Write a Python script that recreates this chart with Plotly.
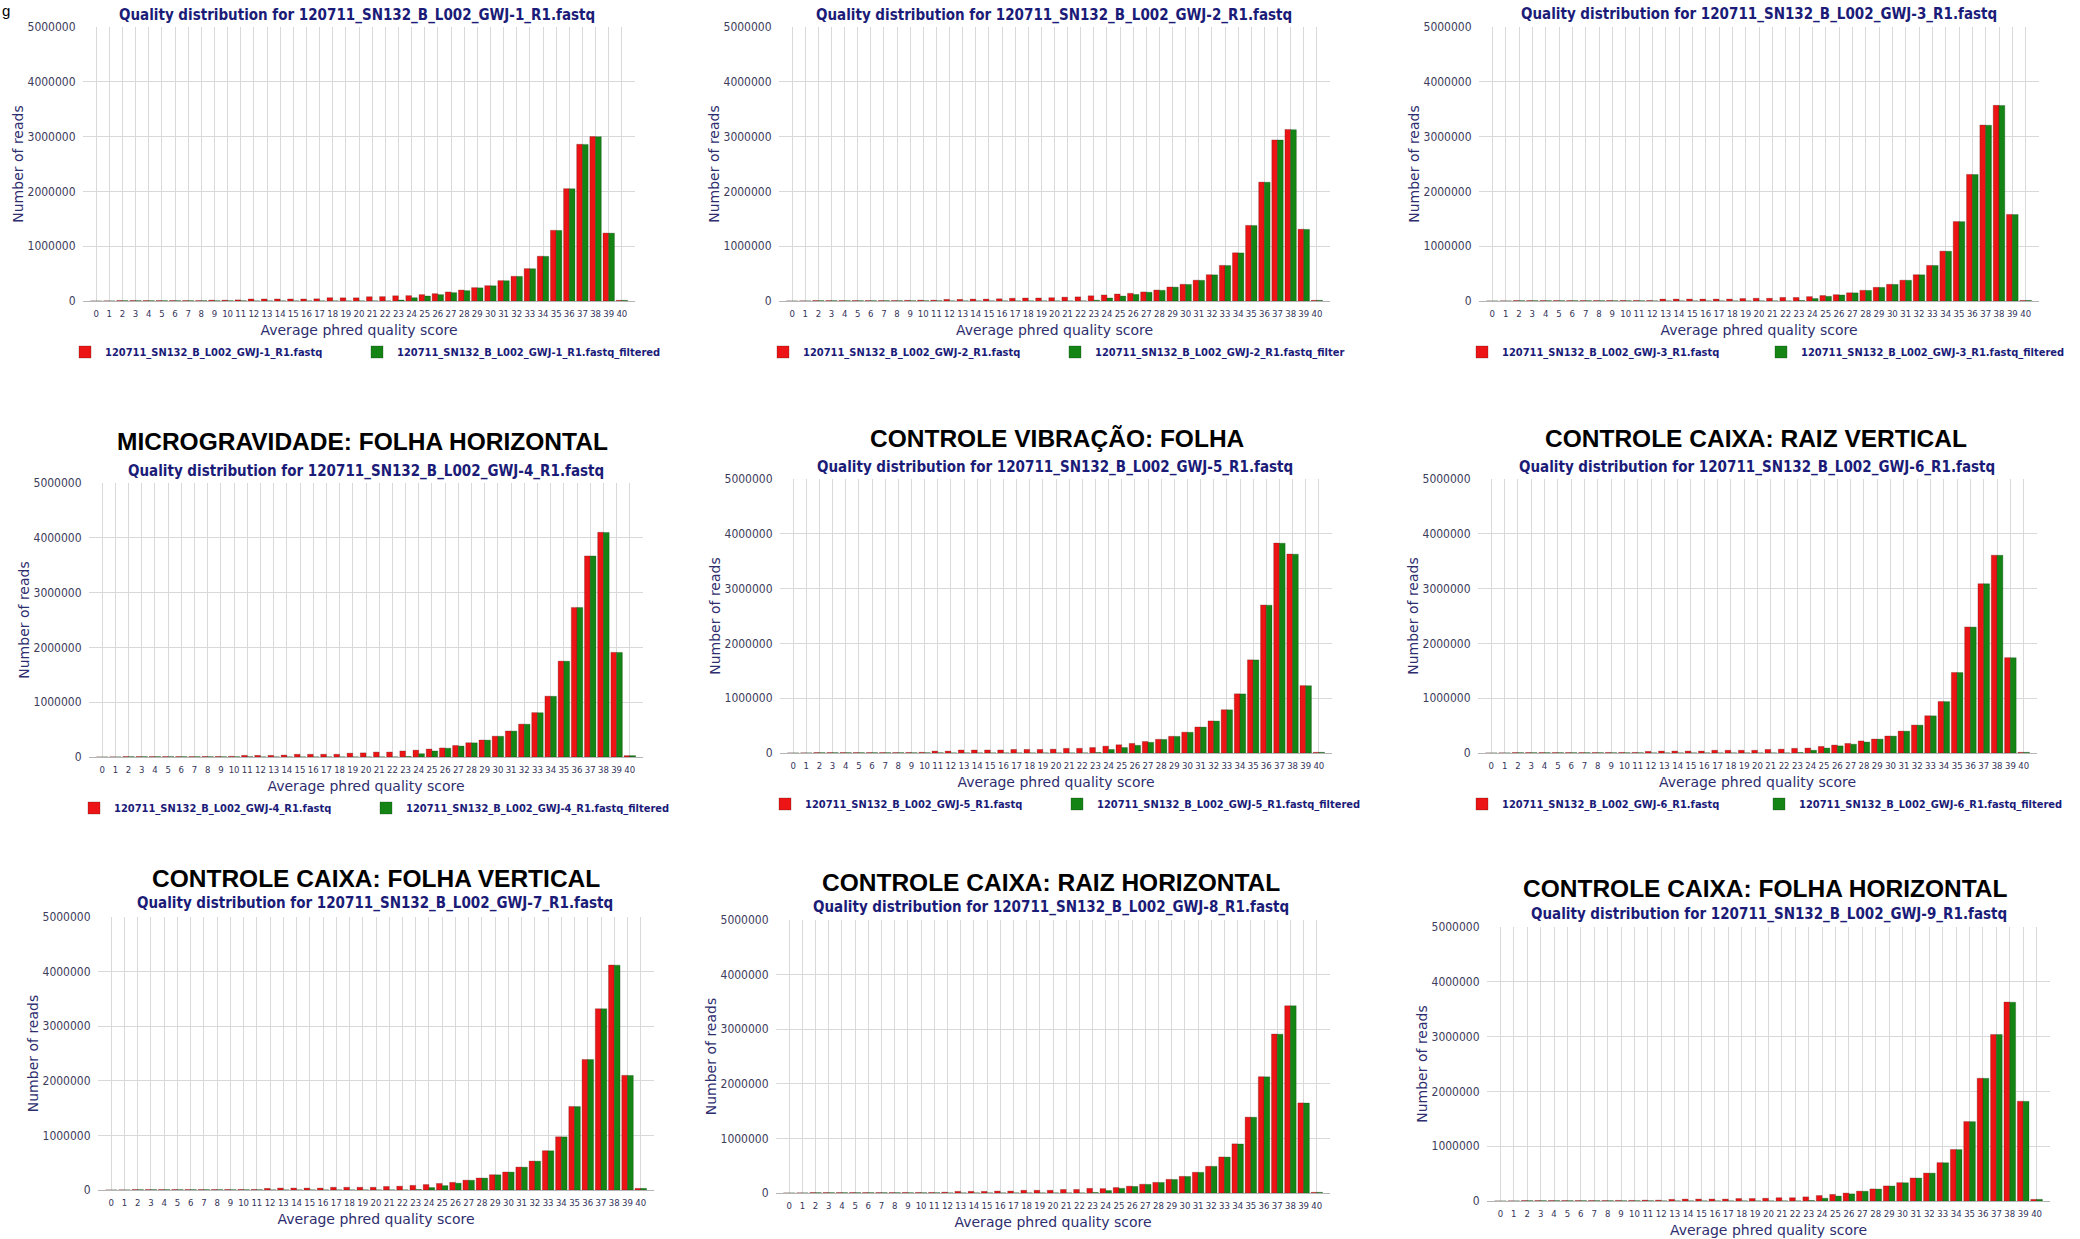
import plotly.graph_objects as go

W, H = 2080, 1239

scores = list(range(41))
score_labels = [str(s) for s in scores]
y_tick_values = [0, 1000000, 2000000, 3000000, 4000000, 5000000]
y_tick_labels = ["0", "1000000", "2000000", "3000000", "4000000", "5000000"]

sample_ids = ["GWJ-1", "GWJ-2", "GWJ-3", "GWJ-4", "GWJ-5", "GWJ-6", "GWJ-7", "GWJ-8", "GWJ-9"]
group_titles = ["", "", "",
                "MICROGRAVIDADE: FOLHA HORIZONTAL",
                "CONTROLE VIBRAÇÃO: FOLHA",
                "CONTROLE CAIXA: RAIZ VERTICAL",
                "CONTROLE CAIXA: FOLHA VERTICAL",
                "CONTROLE CAIXA: RAIZ HORIZONTAL",
                "CONTROLE CAIXA: FOLHA HORIZONTAL"]
raw_names = ["120711_SN132_B_L002_GWJ-1_R1.fastq", "120711_SN132_B_L002_GWJ-2_R1.fastq",
             "120711_SN132_B_L002_GWJ-3_R1.fastq", "120711_SN132_B_L002_GWJ-4_R1.fastq",
             "120711_SN132_B_L002_GWJ-5_R1.fastq", "120711_SN132_B_L002_GWJ-6_R1.fastq",
             "120711_SN132_B_L002_GWJ-7_R1.fastq", "120711_SN132_B_L002_GWJ-8_R1.fastq",
             "120711_SN132_B_L002_GWJ-9_R1.fastq"]
filtered_names = ["120711_SN132_B_L002_GWJ-1_R1.fastq_filtered", "120711_SN132_B_L002_GWJ-2_R1.fastq_filter",
                  "120711_SN132_B_L002_GWJ-3_R1.fastq_filtered", "120711_SN132_B_L002_GWJ-4_R1.fastq_filtered",
                  "120711_SN132_B_L002_GWJ-5_R1.fastq_filtered", "120711_SN132_B_L002_GWJ-6_R1.fastq_filtered",
                  "120711_SN132_B_L002_GWJ-7_R1.fastq_filtered", "120711_SN132_B_L002_GWJ-8_R1.fastq_filtered",
                  "120711_SN132_B_L002_GWJ-9_R1.fastq_filtered"]

raw_gwj1 = [0, 2000, 8000, 8000, 8000, 8000, 8000, 8000, 8000, 15000, 15000, 20000, 37000, 37000, 37000, 37000,
            37000, 40000, 60000, 58000, 58000, 78000, 80000, 95000, 98000, 116000, 134000, 165000, 200000, 244000,
            280000, 372000, 451000, 591000, 817000, 1290000, 2050000, 2860000, 3000000, 1240000, 12000]
filt_gwj1 = [0, 1000, 6000, 6000, 6000, 6000, 6000, 6000, 6000, 5000, 5000, 5000, 2000, 2000, 2000, 2000, 2000,
             2000, 2000, 2000, 2000, 2000, 2000, 18000, 60000, 91000, 116000, 152000, 189000, 240000, 278000,
             370000, 449000, 589000, 815000, 1288000, 2048000, 2858000, 2998000, 1238000, 12000]

raw_gwj2 = [0, 2000, 8000, 8000, 8000, 8000, 8000, 8000, 8000, 12000, 15000, 15000, 30000, 30000, 35000, 35000,
            40000, 50000, 55000, 55000, 60000, 70000, 75000, 95000, 110000, 128000, 140000, 165000, 200000, 256000,
            305000, 380000, 480000, 650000, 880000, 1380000, 2170000, 2940000, 3130000, 1310000, 12000]
filt_gwj2 = [0, 1000, 6000, 6000, 6000, 6000, 6000, 6000, 6000, 5000, 5000, 5000, 2000, 2000, 2000, 2000, 2000,
             2000, 2000, 2000, 2000, 2000, 2000, 15000, 55000, 90000, 120000, 160000, 195000, 253000, 302000,
             377000, 477000, 647000, 877000, 1377000, 2167000, 2937000, 3127000, 1307000, 12000]

raw_gwj3 = [0, 2000, 8000, 8000, 8000, 8000, 8000, 8000, 8000, 10000, 10000, 10000, 10000, 35000, 35000, 35000,
            35000, 35000, 35000, 45000, 50000, 50000, 65000, 65000, 80000, 100000, 115000, 150000, 195000, 250000,
            305000, 380000, 480000, 650000, 910000, 1450000, 2310000, 3210000, 3570000, 1580000, 10000]
filt_gwj3 = [0, 1000, 6000, 6000, 6000, 6000, 6000, 6000, 6000, 5000, 5000, 5000, 2000, 2000, 2000, 2000, 2000,
             2000, 2000, 2000, 2000, 2000, 2000, 10000, 45000, 85000, 110000, 148000, 193000, 248000, 303000,
             378000, 478000, 648000, 908000, 1448000, 2308000, 3208000, 3568000, 1578000, 10000]

raw_gwj4 = [0, 2000, 8000, 8000, 8000, 8000, 8000, 8000, 10000, 10000, 12000, 30000, 30000, 30000, 35000, 50000,
            50000, 50000, 50000, 70000, 75000, 90000, 90000, 110000, 125000, 145000, 165000, 210000, 260000, 310000,
            380000, 475000, 600000, 810000, 1110000, 1750000, 2730000, 3670000, 4100000, 1910000, 25000]
filt_gwj4 = [0, 1000, 6000, 6000, 6000, 6000, 6000, 6000, 6000, 5000, 5000, 5000, 2000, 2000, 2000, 2000, 2000,
             2000, 2000, 2000, 2000, 2000, 2000, 10000, 60000, 110000, 160000, 200000, 258000, 308000, 378000,
             473000, 598000, 808000, 1108000, 1748000, 2728000, 3668000, 4098000, 1908000, 25000]

raw_gwj5 = [0, 2000, 8000, 8000, 8000, 8000, 8000, 8000, 8000, 10000, 12000, 35000, 35000, 55000, 55000, 55000,
            55000, 65000, 65000, 65000, 70000, 85000, 85000, 100000, 125000, 150000, 175000, 210000, 250000, 305000,
            380000, 475000, 585000, 790000, 1080000, 1700000, 2700000, 3830000, 3630000, 1230000, 12000]
filt_gwj5 = [0, 1000, 6000, 6000, 6000, 6000, 6000, 6000, 6000, 5000, 5000, 5000, 2000, 2000, 2000, 2000, 2000,
             2000, 2000, 2000, 2000, 2000, 2000, 10000, 65000, 100000, 140000, 195000, 248000, 303000, 378000,
             473000, 583000, 788000, 1078000, 1698000, 2698000, 3828000, 3628000, 1228000, 12000]

raw_gwj6 = [0, 2000, 8000, 8000, 8000, 8000, 8000, 8000, 8000, 10000, 10000, 10000, 30000, 35000, 35000, 35000,
            35000, 50000, 50000, 50000, 50000, 65000, 70000, 85000, 90000, 120000, 145000, 175000, 220000, 255000,
            310000, 400000, 510000, 680000, 940000, 1470000, 2300000, 3090000, 3610000, 1740000, 12000]
filt_gwj6 = [0, 1000, 6000, 6000, 6000, 6000, 6000, 6000, 6000, 5000, 5000, 5000, 2000, 2000, 2000, 2000, 2000,
             2000, 2000, 2000, 2000, 2000, 2000, 10000, 50000, 90000, 130000, 160000, 200000, 253000, 308000,
             398000, 508000, 678000, 938000, 1468000, 2298000, 3088000, 3608000, 1738000, 12000]

raw_gwj7 = [0, 2000, 8000, 8000, 8000, 8000, 8000, 8000, 8000, 10000, 10000, 10000, 30000, 35000, 35000, 35000,
            35000, 50000, 50000, 50000, 50000, 65000, 70000, 85000, 100000, 120000, 140000, 180000, 220000, 280000,
            330000, 420000, 530000, 720000, 975000, 1530000, 2390000, 3320000, 4120000, 2100000, 30000]
filt_gwj7 = [0, 1000, 6000, 6000, 6000, 6000, 6000, 6000, 6000, 5000, 5000, 5000, 2000, 2000, 2000, 2000, 2000,
             2000, 2000, 2000, 2000, 2000, 2000, 10000, 45000, 80000, 125000, 178000, 218000, 278000, 328000,
             418000, 528000, 718000, 973000, 1528000, 2388000, 3318000, 4118000, 2098000, 30000]

raw_gwj8 = [0, 2000, 8000, 8000, 8000, 8000, 8000, 8000, 8000, 10000, 10000, 10000, 15000, 30000, 30000, 30000,
            35000, 35000, 50000, 50000, 50000, 65000, 65000, 85000, 80000, 100000, 125000, 160000, 195000, 250000,
            305000, 380000, 490000, 660000, 900000, 1390000, 2130000, 2910000, 3430000, 1650000, 12000]
filt_gwj8 = [0, 1000, 6000, 6000, 6000, 6000, 6000, 6000, 6000, 5000, 5000, 5000, 2000, 2000, 2000, 2000, 2000,
             2000, 2000, 2000, 2000, 2000, 2000, 10000, 45000, 85000, 120000, 158000, 193000, 248000, 303000,
             378000, 488000, 658000, 898000, 1388000, 2128000, 2908000, 3428000, 1648000, 12000]

raw_gwj9 = [0, 2000, 8000, 8000, 8000, 8000, 8000, 8000, 8000, 10000, 10000, 15000, 15000, 30000, 35000, 35000,
            35000, 35000, 45000, 45000, 50000, 60000, 60000, 75000, 100000, 120000, 145000, 180000, 220000, 275000,
            335000, 420000, 510000, 700000, 940000, 1450000, 2240000, 3040000, 3630000, 1820000, 30000]
filt_gwj9 = [0, 1000, 6000, 6000, 6000, 6000, 6000, 6000, 6000, 5000, 5000, 5000, 2000, 2000, 2000, 2000, 2000,
             2000, 2000, 2000, 2000, 2000, 2000, 10000, 50000, 90000, 130000, 178000, 218000, 273000, 333000,
             418000, 508000, 698000, 938000, 1448000, 2238000, 3038000, 3628000, 1818000, 30000]

raw_series = [raw_gwj1, raw_gwj2, raw_gwj3, raw_gwj4, raw_gwj5, raw_gwj6, raw_gwj7, raw_gwj8, raw_gwj9]
filt_series = [filt_gwj1, filt_gwj2, filt_gwj3, filt_gwj4, filt_gwj5, filt_gwj6, filt_gwj7, filt_gwj8, filt_gwj9]

# ---- layout (pixel positions in the 2080x1239 canvas) ----
plot_boxes = [(83, 635, 27, 301), (779, 1330, 27, 301), (1479, 2039, 27, 301),
              (89, 643, 483, 757), (780, 1332, 479, 753), (1478, 2037, 479, 753),
              (98, 654, 917, 1190), (776, 1330, 920, 1193), (1487, 2050, 927, 1201)]
subtitle_pos = [(357, 15), (1054, 15), (1759, 14), (366, 471), (1055, 467), (1757, 467),
                (375, 903), (1051, 907), (1769, 914)]
bigtitle_pos = [None, None, None, (362, 442), (1057, 439), (1756, 439), (376, 878), (1051, 882), (1765, 888)]
legend_red_pos = [(85, 352), (783, 352), (1482, 352), (94, 808), (785, 804), (1482, 804), None, None, None]
legend_green_x = [377, 1075, 1781, 386, 1077, 1779, None, None, None]

RED = "#ec1414"
GREEN = "#148414"
NAVY = "#1b1b78"
AXNAVY = "#2e2e6e"
GRID = "#d9d9d9"
COND = "DejaVu Sans Condensed, Liberation Sans Narrow, DejaVu Sans, sans-serif"


def px(x):
    return x / W


def py(y):
    return 1 - y / H


def legend_box(x_square, y_center):
    return dict(x=px(x_square - 20), y=py(y_center), xanchor="left", yanchor="middle",
                xref="paper", yref="paper", orientation="h", itemwidth=30,
                bgcolor="rgba(0,0,0,0)", borderwidth=0,
                font=dict(family=COND, size=11, color=NAVY, weight="bold"))


fig = go.Figure()
layout = dict(
    width=W, height=H, margin=dict(l=0, r=0, t=0, b=0),
    paper_bgcolor="white", plot_bgcolor="white",
    barmode="group", bargap=0.13, bargroupgap=0.0,
    showlegend=True,
    annotations=[], font=dict(family="DejaVu Sans, sans-serif"),
)

for i in range(9):
    k = "" if i == 0 else str(i + 1)
    x0, x1, y0, y1 = plot_boxes[i]
    has_legend = legend_red_pos[i] is not None
    n_red = 2 * i + 1
    n_green = 2 * i + 2
    lg_red = "legend" if n_red == 1 else "legend" + str(n_red)
    lg_green = "legend" + str(n_green)
    fig.add_trace(go.Bar(x=scores, y=raw_series[i], name=raw_names[i], xaxis="x" + k, yaxis="y" + k,
                         marker=dict(color=RED, line=dict(color="rgba(90,30,30,0.5)", width=0.6)),
                         showlegend=has_legend, legend=lg_red))
    fig.add_trace(go.Bar(x=scores, y=filt_series[i], name=filtered_names[i], xaxis="x" + k, yaxis="y" + k,
                         marker=dict(color=GREEN, line=dict(color="rgba(20,60,20,0.5)", width=0.6)),
                         showlegend=has_legend, legend=lg_green))
    layout["xaxis" + k] = dict(
        domain=[px(x0), px(x1)], anchor="y" + k, range=[-1, 41],
        tickmode="array", tickvals=scores, ticktext=score_labels, tickangle=0,
        tickfont=dict(family=COND, size=9.5, color="#33335a"), ticks="", ticklabelstandoff=5,
        showgrid=True, gridcolor=GRID, gridwidth=1,
        showline=False, zeroline=False, automargin=False, fixedrange=True,
        title=dict(text="Average phred quality score", standoff=7,
                   font=dict(family="DejaVu Sans, sans-serif", size=14, color=AXNAVY)),
    )
    layout["yaxis" + k] = dict(
        domain=[py(y1), py(y0)], anchor="x" + k, range=[0, 5000000],
        tickmode="array", tickvals=y_tick_values, ticktext=y_tick_labels,
        tickfont=dict(family=COND, size=12, color="#3c3c5c"),
        ticks="outside", ticklen=4, tickcolor="rgba(0,0,0,0)",
        showgrid=True, gridcolor=GRID, gridwidth=1,
        zeroline=True, zerolinecolor="#b4b4b4", zerolinewidth=1,
        showline=False, automargin=False, fixedrange=True,
        title=dict(text="Number of reads", standoff=0,
                   font=dict(family="DejaVu Sans, sans-serif", size=14, color=AXNAVY)),
    )
    sx, sy = subtitle_pos[i]
    layout["annotations"].append(dict(
        text="Quality distribution for 120711_SN132_B_L002_" + sample_ids[i] + "_R1.fastq",
        x=px(sx), y=py(sy), xref="paper", yref="paper", xanchor="center", yanchor="middle",
        showarrow=False, font=dict(family=COND, size=15, color=NAVY, weight="bold")))
    if bigtitle_pos[i] is not None:
        bx, by = bigtitle_pos[i]
        layout["annotations"].append(dict(
            text=group_titles[i], x=px(bx), y=py(by), xref="paper", yref="paper",
            xanchor="center", yanchor="middle", showarrow=False,
            font=dict(family="Liberation Sans, Arial, sans-serif", size=24.5, color="black", weight="bold")))
    if has_legend:
        lx, ly = legend_red_pos[i]
        layout[lg_red] = legend_box(lx, ly)
        layout[lg_green] = legend_box(legend_green_x[i], ly)

# panel letter at the top-left corner (mostly cropped in the source)
layout["annotations"].append(dict(text="g", x=0.0, y=1.0, xref="paper", yref="paper", xanchor="left",
                                  yanchor="top", showarrow=False,
                                  font=dict(family="Liberation Sans, Arial, sans-serif", size=15, color="black")))

fig.update_layout(**layout)
fig.write_html("out.html", config={"displayModeBar": False},
               post_script="document.body.style.margin='0px';document.body.style.overflow='hidden';")
